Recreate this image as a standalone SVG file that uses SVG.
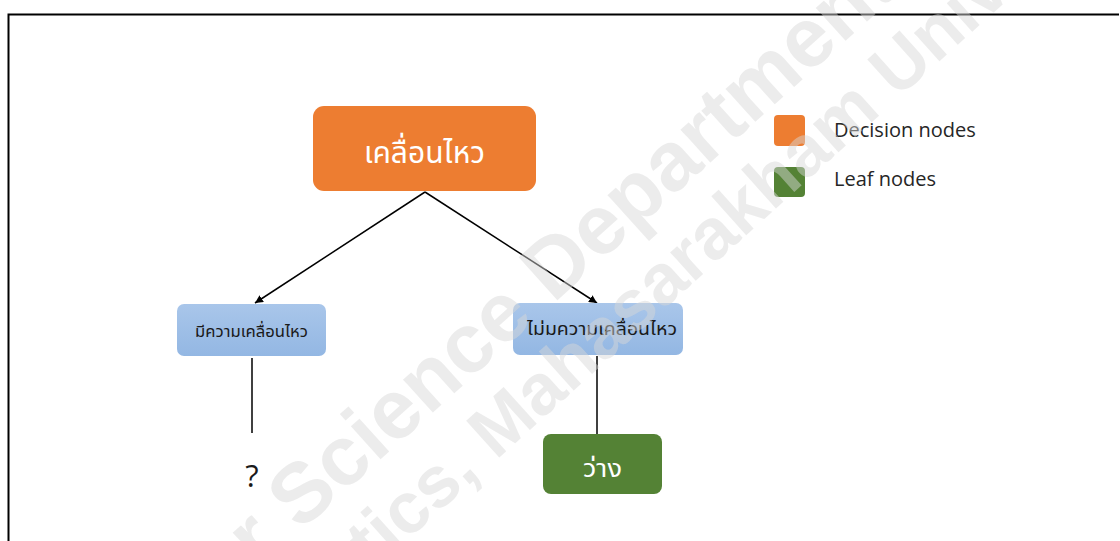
<svg xmlns="http://www.w3.org/2000/svg" width="1120" height="541" viewBox="0 0 1120 541">
  <defs>
    <linearGradient id="blueFill" x1="0" y1="0" x2="0" y2="1">
      <stop offset="0" stop-color="#a9c6ea"/>
      <stop offset="1" stop-color="#93b7e3"/>
    </linearGradient>
    <marker id="arrow" viewBox="0 0 10 10" refX="10" refY="5" markerWidth="8" markerHeight="8" orient="auto" markerUnits="userSpaceOnUse">
      <path d="M0,0 L10,5 L0,10 Z" fill="#000"/>
    </marker>
  </defs>
  <style>
    .thai { font-family: "Noto Sans Thai", "Leelawadee UI", "Noto Sans", "DejaVu Sans", sans-serif; }
    .latin { font-family: "Open Sans", "Noto Sans", "Liberation Sans", sans-serif; }
    .decision { fill: #ed7d31; }
    .branch { fill: url(#blueFill); }
    .leaf { fill: #548235; }
    .edge { stroke: #000; stroke-width: 1.5; fill: none; }
    .wm { font-family: "Liberation Sans", Arial, sans-serif; font-weight: bold; fill: #d8d8d8; fill-opacity: 0.48; }
  </style>

  <rect width="1120" height="541" fill="#fff"/>
  <!-- frame -->
  <path d="M8.5,541 V14.5 H1119" fill="none" stroke="#000" stroke-width="2"/>

  <!-- connectors -->
  <g id="connectors">
    <line class="edge" x1="425" y1="192" x2="255" y2="303" marker-end="url(#arrow)"/>
    <line class="edge" x1="425" y1="192" x2="597" y2="303" marker-end="url(#arrow)"/>
    <line class="edge" x1="252" y1="358" x2="252" y2="433"/>
    <line class="edge" x1="597" y1="356" x2="597" y2="434"/>
  </g>

  <!-- root decision -->
  <g id="node-root">
    <rect class="decision" x="313" y="106" width="223" height="85" rx="11"/>
    <text class="thai" x="424.5" y="163" font-size="30" fill="#fff" text-anchor="middle">เคลื่อนไหว</text>
  </g>

  <!-- branch: moving -->
  <g id="node-moving">
    <rect class="branch" x="177" y="304" width="149" height="52" rx="7"/>
    <text class="thai" x="251.5" y="337" font-size="16" fill="#1a1a1a" text-anchor="middle" textLength="113" lengthAdjust="spacingAndGlyphs">มีความเคลื่อนไหว</text>
  </g>

  <!-- branch: not moving -->
  <g id="node-not-moving">
    <rect class="branch" x="513" y="303" width="170" height="52" rx="7"/>
    <text class="thai" x="602" y="335" font-size="17" fill="#1a1a1a" text-anchor="middle" textLength="150" lengthAdjust="spacingAndGlyphs">ไม่มความเคลื่อนไหว</text>
  </g>

  <!-- unknown outcome -->
  <g id="node-unknown">
    <text class="latin" x="252" y="487" font-size="31" fill="#1a1a1a" text-anchor="middle">?</text>
  </g>

  <!-- leaf: free -->
  <g id="node-free">
    <rect class="leaf" x="543" y="434" width="119" height="60" rx="8"/>
    <text class="thai" x="602.5" y="477" font-size="25" fill="#fff" text-anchor="middle" textLength="39" lengthAdjust="spacingAndGlyphs">ว่าง</text>
  </g>

  <!-- legend -->
  <g id="legend">
    <rect class="decision" x="774" y="115" width="31" height="31" rx="4"/>
    <text class="latin" x="834" y="137" font-size="20" fill="#262626">Decision nodes</text>
    <rect class="leaf" x="774" y="167" width="31" height="30" rx="4"/>
    <text class="latin" x="834" y="186" font-size="20" fill="#262626">Leaf nodes</text>
  </g>

  <!-- watermark -->
  <g id="watermark" transform="translate(300 532) rotate(-42)">
    <text class="wm" x="-420" y="0" font-size="84">Computer Science Department,</text>
    <text class="wm" x="-235" y="78" font-size="72">Informatics, Mahasarakham University</text>
  </g>
</svg>
